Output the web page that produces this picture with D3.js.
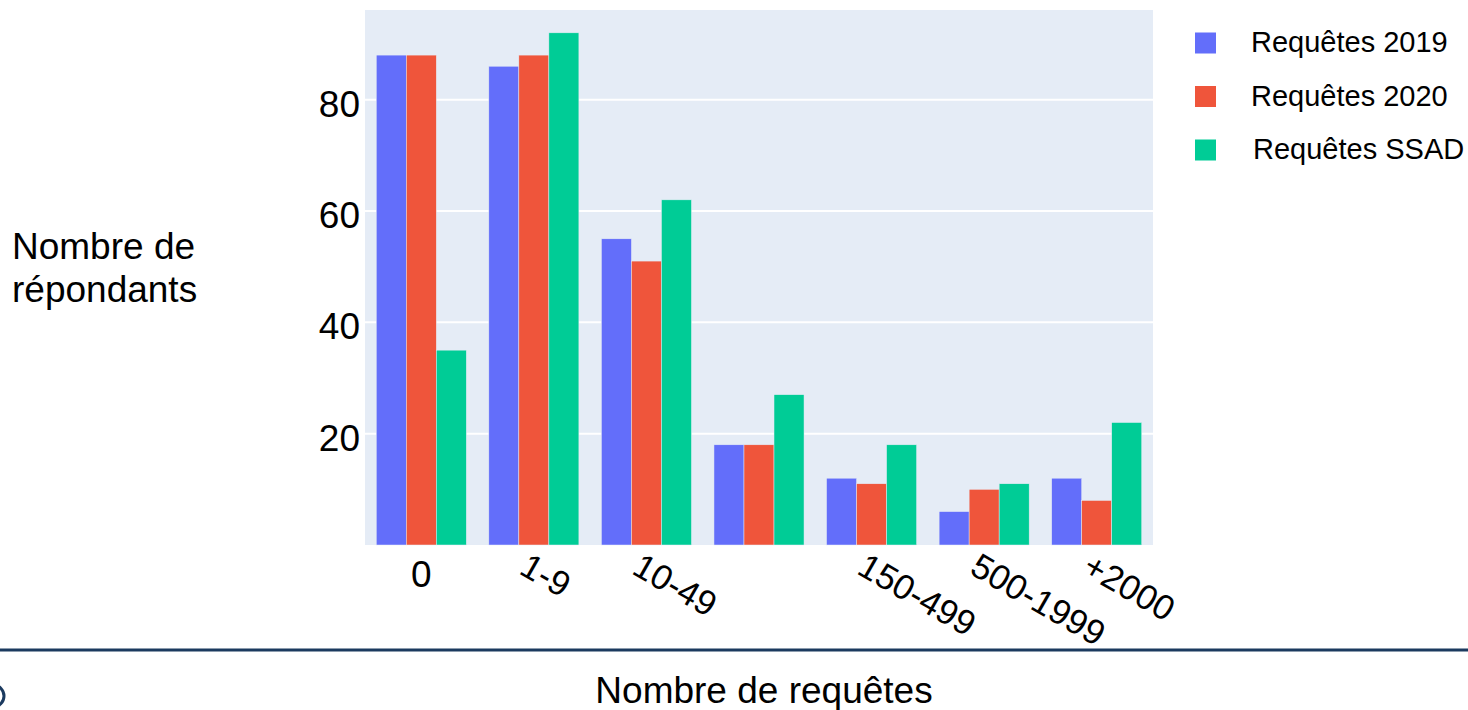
<!DOCTYPE html>
<html>
<head>
<meta charset="utf-8">
<script src="https://cdn.jsdelivr.net/npm/d3@7"></script>
<style>
  html, body { margin: 0; padding: 0; background: #fff; }
  svg { display: block; font-family: "Liberation Sans", Arial, sans-serif; }
</style>
</head>
<body>
<svg id="chart" width="1468" height="710"></svg>
<script>
// ---- data ----
const categories = ["0", "1-9", "10-49", "50-149", "150-499", "500-1999", "+2000"];
const tickLabels = ["0", "1-9", "10-49", "", "150-499", "500-1999", "+2000"];
const seriesNames = ["Requêtes 2019", "Requêtes 2020", "Requêtes SSAD"];
const values2019 = [88, 86, 55, 18, 12, 6, 12];
const values2020 = [88, 88, 51, 18, 11, 10, 8];
const valuesSSAD = [35, 92, 62, 27, 18, 11, 22];
const yTicks = [20, 40, 60, 80];
const colors = ["#636EFA", "#EF553B", "#00CC96"];

const series = [values2019, values2020, valuesSSAD];
const table = categories.map((c, i) => ({cat: c, vals: series.map(s => s[i])}));

// ---- layout ----
const svg = d3.select("#chart");
const plot = {left: 365, right: 1153, top: 10, bottom: 545};
const FS = 37;

const x = d3.scaleBand().domain(categories).range([plot.left, plot.right]).paddingInner(0.2).paddingOuter(0.1);
const xStep = d3.scaleBand().domain(categories).range([plot.left, plot.right]);
const xInner = d3.scaleBand().domain(d3.range(series.length)).range([0, x.bandwidth()]);
const y = d3.scaleLinear().domain([0, 96.1]).range([plot.bottom, plot.top]);

// background
svg.append("rect")
  .attr("x", plot.left).attr("y", plot.top)
  .attr("width", plot.right - plot.left).attr("height", plot.bottom - plot.top)
  .attr("fill", "#E5ECF6");

// gridlines
svg.append("g").selectAll("line").data(yTicks).join("line")
  .attr("x1", plot.left).attr("x2", plot.right)
  .attr("y1", d => y(d)).attr("y2", d => y(d))
  .attr("stroke", "#fff").attr("stroke-width", 2);

// y tick labels
svg.append("g").selectAll("text").data(yTicks).join("text")
  .attr("x", plot.left - 5).attr("y", d => y(d) + 17)
  .attr("text-anchor", "end")
  .attr("font-size", FS).attr("fill", "#000")
  .text(d => d);

// bars
const groups = svg.append("g").selectAll("g").data(table).join("g")
  .attr("transform", d => `translate(${xStep(d.cat) + (xStep.bandwidth() - x.bandwidth()) / 2},0)`);
groups.selectAll("rect").data(d => d.vals.map((v, k) => ({v, k}))).join("rect")
  .attr("x", d => xInner(d.k))
  .attr("width", xInner.bandwidth())
  .attr("y", d => y(d.v))
  .attr("height", d => y(0) - y(d.v))
  .attr("fill", d => colors[d.k])
  .attr("stroke", "#E5ECF6").attr("stroke-width", 0.5);

// x tick labels
const xl = svg.append("g");
categories.forEach((c, i) => {
  const cx = xStep(c) + xStep.bandwidth() / 2;
  const label = tickLabels[i];
  if (!label) return;
  if (i === 0) {
    xl.append("text").attr("x", cx).attr("y", 587)
      .attr("text-anchor", "middle").attr("font-size", FS).attr("fill", "#000")
      .text(label);
  } else {
    xl.append("text")
      .attr("transform", `translate(${cx - 16},573) rotate(30)`)
      .attr("text-anchor", "start").attr("font-size", 35).attr("fill", "#000")
      .text(label);
  }
});

// y axis title
const yt = svg.append("text").attr("font-size", FS).attr("fill", "#000");
yt.append("tspan").attr("x", 12).attr("y", 259).text("Nombre de");
yt.append("tspan").attr("x", 12).attr("y", 302).text("répondants");

// x axis title
svg.append("text").attr("x", 764).attr("y", 703)
  .attr("text-anchor", "middle").attr("font-size", FS).attr("fill", "#000")
  .text("Nombre de requêtes");

// separator line
svg.append("line").attr("x1", 0).attr("x2", 1468).attr("y1", 650).attr("y2", 650)
  .attr("stroke", "#1B3A5F").attr("stroke-width", 3);

// partial logo circle at bottom-left
svg.append("circle").attr("cx", -7).attr("cy", 696).attr("r", 11)
  .attr("fill", "none").attr("stroke", "#1B3A5F").attr("stroke-width", 3);

// legend
const leg = svg.append("g").selectAll("g").data(seriesNames).join("g")
  .attr("transform", (d, i) => `translate(1195,${43 + i * 53.5})`);
leg.append("rect").attr("x", 0).attr("y", -10.5).attr("width", 21).attr("height", 21)
  .attr("fill", (d, i) => colors[i]);
leg.append("text").attr("x", (d, i) => i === 2 ? 58 : 56).attr("y", 9)
  .attr("font-size", 29).attr("fill", "#000")
  .text(d => d);
</script>
</body>
</html>
